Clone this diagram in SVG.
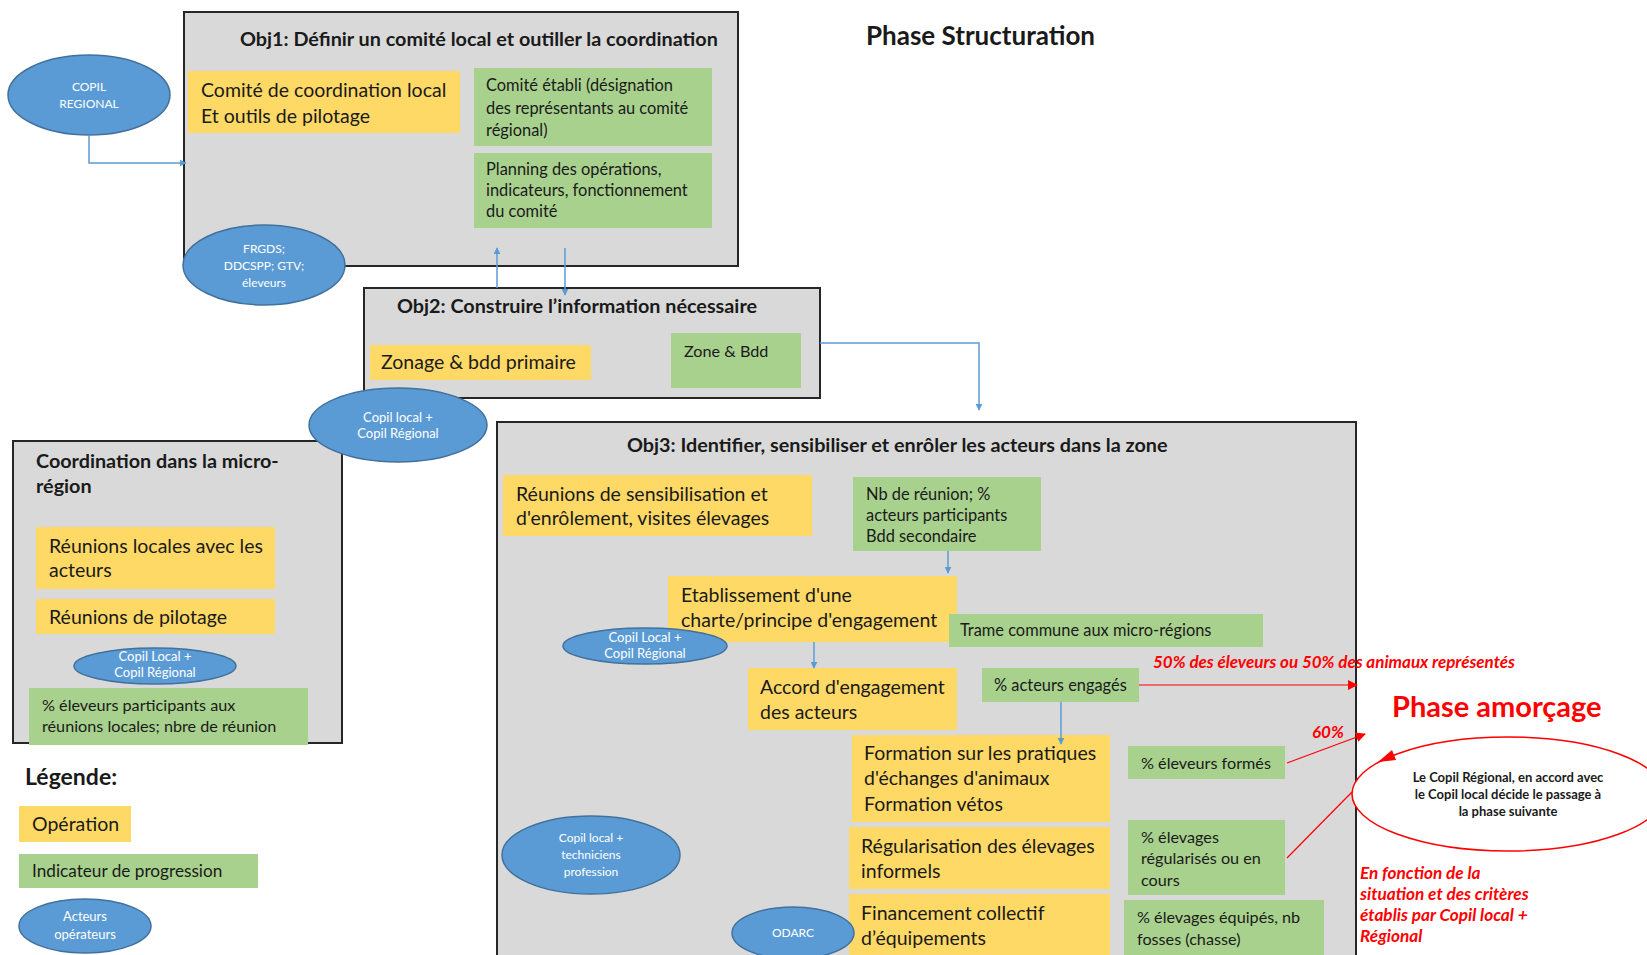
<svg xmlns="http://www.w3.org/2000/svg" width="1647" height="955" viewBox="0 0 1647 955">
<style>
.box{fill:#d9d9d9;stroke:#262626;stroke-width:2}
.op{fill:#ffd966}
.ind{fill:#a9d18e}
.act{fill:#5b9bd5;stroke:#41719c;stroke-width:1.5}
text{font-family:Lato,'Liberation Sans',sans-serif;fill:#1a1a1a}
.t{font-weight:bold;font-size:19.8px}
.o{font-size:19.5px}
.i{font-size:16.4px}
.s{font-size:16.2px}
.a{font-size:12px;fill:#fff;text-anchor:middle}
.a2{font-size:13px;fill:#fff;text-anchor:middle}
.r{fill:#ff0000;font-weight:bold;font-style:italic}
.conn{fill:none;stroke:#5b9bd5;stroke-width:1.5}
.rl{fill:none;stroke:#ff0000;stroke-width:1.2}
.et{font-size:13px;font-weight:bold;text-anchor:middle}
</style>
<defs>
<marker id="ab" viewBox="0 0 10 10" refX="9" refY="5" markerWidth="7" markerHeight="7" orient="auto" markerUnits="userSpaceOnUse"><path d="M0,0L10,5L0,10z" fill="#5b9bd5"/></marker>
<marker id="ar" viewBox="0 0 10 10" refX="9" refY="5" markerWidth="10" markerHeight="10" orient="auto" markerUnits="userSpaceOnUse"><path d="M0,0L10,5L0,10z" fill="#ff0000"/></marker>
</defs>
<rect width="1647" height="955" fill="#fff"/>

<text x="866" y="45" style="font-weight:bold;font-size:26px">Phase Structuration</text>

<g id="obj1">
<rect class="box" x="184" y="12" width="554" height="254"/>
<text class="t" x="240" y="46">Obj1: Définir un comité local et outiller la coordination</text>
<rect class="op" x="188" y="71" width="272" height="62"/>
<text class="o" x="201" y="97">Comité de coordination local</text>
<text class="o" x="201" y="123">Et outils de pilotage</text>
<rect class="ind" x="474" y="68" width="238" height="78"/>
<text class="i" x="486" y="91">Comité établi (désignation</text>
<text class="i" x="486" y="114">des représentants au comité</text>
<text class="i" x="486" y="136">régional)</text>
<rect class="ind" x="474" y="153" width="238" height="75"/>
<text class="i" x="486" y="175">Planning des opérations,</text>
<text class="i" x="486" y="196">indicateurs, fonctionnement</text>
<text class="i" x="486" y="217">du comité</text>
</g>

<g id="obj2">
<rect class="box" x="364" y="288" width="456" height="110"/>
<text class="t" x="397" y="313">Obj2: Construire l’information nécessaire</text>
<rect class="op" x="370" y="345" width="221" height="35"/>
<text class="o" x="381" y="369">Zonage &amp; bdd primaire</text>
<rect class="ind" x="671" y="333" width="130" height="55"/>
<text class="s" x="684" y="357">Zone &amp; Bdd</text>
</g>

<g id="coord">
<rect class="box" x="13" y="441" width="329" height="302"/>
<text class="t" x="36" y="468">Coordination dans la micro-</text>
<text class="t" x="36" y="493">région</text>
<rect class="op" x="36" y="527" width="239" height="62"/>
<text class="o" x="49" y="553">Réunions locales avec les</text>
<text class="o" x="49" y="577">acteurs</text>
<rect class="op" x="36" y="599" width="239" height="35"/>
<text class="o" x="49" y="624">Réunions de pilotage</text>
<rect class="ind" x="29" y="688" width="279" height="57"/>
<text class="s" x="42" y="711">% éleveurs participants aux</text>
<text class="s" x="42" y="732">réunions locales; nbre de réunion</text>
</g>
<g id="copil-coord">
<ellipse class="act" cx="155" cy="666" rx="81" ry="18"/>
<text class="a2" x="155" y="661">Copil Local +</text>
<text class="a2" x="155" y="677">Copil Régional</text>
</g>

<g id="obj3">
<rect class="box" x="497" y="422" width="859" height="545"/>
<text class="t" x="627" y="452">Obj3: Identifier, sensibiliser et enrôler les acteurs dans la zone</text>
<rect class="op" x="503" y="475" width="309" height="61"/>
<text class="o" x="516" y="501">Réunions de sensibilisation et</text>
<text class="o" x="516" y="525">d'enrôlement, visites élevages</text>
<rect class="ind" x="853" y="477" width="188" height="74"/>
<text class="i" x="866" y="500">Nb de réunion; %</text>
<text class="i" x="866" y="521">acteurs participants</text>
<text class="i" x="866" y="542">Bdd secondaire</text>
<rect class="op" x="668" y="576" width="289" height="66"/>
<text class="o" x="681" y="602">Etablissement d'une</text>
<text class="o" x="681" y="627">charte/principe d'engagement</text>
<rect class="ind" x="949" y="614" width="314" height="33"/>
<text class="i" x="960" y="636">Trame commune aux micro-régions</text>
<rect class="op" x="748" y="668" width="209" height="62"/>
<text class="o" x="760" y="694">Accord d'engagement</text>
<text class="o" x="760" y="719">des acteurs</text>
<rect class="ind" x="982" y="668" width="157" height="34"/>
<text class="i" x="994" y="691">% acteurs engagés</text>
<rect class="op" x="852" y="735" width="258" height="87"/>
<text class="o" x="864" y="760">Formation sur les pratiques</text>
<text class="o" x="864" y="785">d'échanges d'animaux</text>
<text class="o" x="864" y="811">Formation vétos</text>
<rect class="ind" x="1128" y="746" width="157" height="33"/>
<text class="s" x="1141" y="769">% éleveurs formés</text>
<rect class="op" x="849" y="827" width="261" height="62"/>
<text class="o" x="861" y="853">Régularisation des élevages</text>
<text class="o" x="861" y="878">informels</text>
<rect class="ind" x="1128" y="820" width="157" height="75"/>
<text class="s" x="1141" y="843">% élevages</text>
<text class="s" x="1141" y="864">régularisés ou en</text>
<text class="s" x="1141" y="886">cours</text>
<rect class="op" x="849" y="894" width="261" height="65"/>
<text class="o" x="861" y="920">Financement collectif</text>
<text class="o" x="861" y="945">d’équipements</text>
<rect class="ind" x="1124" y="900" width="200" height="60"/>
<text class="s" x="1137" y="923">% élevages équipés, nb</text>
<text class="s" x="1137" y="945">fosses (chasse)</text>
</g>

<g id="copil-regional">
<ellipse class="act" cx="89" cy="95" rx="81" ry="40"/>
<text class="a" x="89" y="91">COPIL</text>
<text class="a" x="89" y="108">REGIONAL</text>
</g>
<g id="frgds">
<ellipse class="act" cx="264" cy="265" rx="81" ry="40"/>
<text class="a" x="264" y="253">FRGDS;</text>
<text class="a" x="264" y="270">DDCSPP; GTV;</text>
<text class="a" x="264" y="287">éleveurs</text>
</g>
<g id="copil-obj2">
<ellipse class="act" cx="398" cy="425" rx="89" ry="37"/>
<text class="a2" x="398" y="422">Copil local +</text>
<text class="a2" x="398" y="438">Copil Régional</text>
</g>
<g id="copil-obj3">
<ellipse class="act" cx="645" cy="646" rx="82" ry="18"/>
<text class="a2" x="645" y="642">Copil Local +</text>
<text class="a2" x="645" y="658">Copil Régional</text>
</g>
<g id="copil-tech">
<ellipse class="act" cx="591" cy="855" rx="89" ry="39"/>
<text class="a" x="591" y="842">Copil local +</text>
<text class="a" x="591" y="859">techniciens</text>
<text class="a" x="591" y="876">profession</text>
</g>
<g id="odarc">
<ellipse class="act" cx="793" cy="933" rx="61" ry="26"/>
<text class="a" x="793" y="937">ODARC</text>
</g>

<g id="legend">
<text x="25" y="785" style="font-weight:bold;font-size:23px">Légende:</text>
<rect class="op" x="19" y="806" width="112" height="36"/>
<text class="o" x="32" y="831">Opération</text>
<rect class="ind" x="19" y="854" width="239" height="34"/>
<text x="32" y="877" style="font-size:17.2px">Indicateur de progression</text>
<ellipse class="act" cx="85" cy="926" rx="66" ry="27"/>
<text class="a2" x="85" y="921">Acteurs</text>
<text class="a2" x="85" y="939">opérateurs</text>
</g>

<g id="phase-amorcage">
<text x="1392" y="717" style="fill:#ff0000;font-weight:bold;font-size:29px">Phase amorçage</text>
<ellipse cx="1508" cy="794" rx="156" ry="57" fill="#fff" stroke="#ff0000" stroke-width="1.5"/>
<path d="M1392,750L1378,762L1396,760z" fill="#ff0000"/>
<text class="et" x="1508" y="782">Le Copil Régional, en accord avec</text>
<text class="et" x="1508" y="799">le Copil local décide le passage à</text>
<text class="et" x="1508" y="816">la phase suivante</text>
<text class="r" x="1360" y="879" style="font-size:17.2px">En fonction de la</text>
<text class="r" x="1360" y="900" style="font-size:17.2px">situation et des critères</text>
<text class="r" x="1360" y="921" style="font-size:17.2px">établis par Copil local +</text>
<text class="r" x="1360" y="942" style="font-size:17.2px">Régional</text>
</g>

<g id="connectors">
<path class="conn" d="M89,135V163H186" marker-end="url(#ab)"/>
<path class="conn" d="M497,288V248" marker-end="url(#ab)"/>
<path class="conn" d="M565,248V295" marker-end="url(#ab)"/>
<path class="conn" d="M820,343H979V410" marker-end="url(#ab)"/>
<path class="conn" d="M948,551V573" marker-end="url(#ab)"/>
<path class="conn" d="M814,642V668" marker-end="url(#ab)"/>
<path class="conn" d="M1061,702V744" marker-end="url(#ab)"/>
<path class="rl" d="M1139,685H1357" marker-end="url(#ar)"/>
<path class="rl" d="M1287,763L1365,734" marker-end="url(#ar)"/>
<path class="rl" d="M1287,858L1352,792"/>
<text class="r" x="1153" y="668" style="font-size:17px">50% des éleveurs ou 50% des animaux représentés</text>
<text class="r" x="1312" y="738" style="font-size:17px">60%</text>
</g>
</svg>
